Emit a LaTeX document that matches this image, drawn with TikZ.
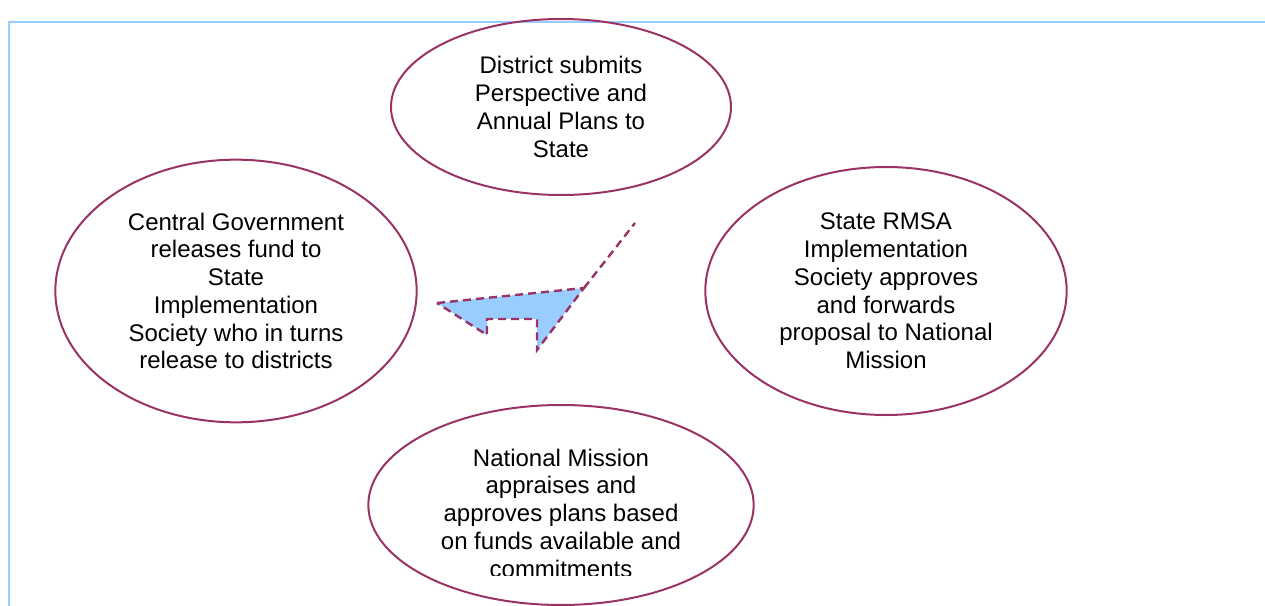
\documentclass[tikz,border=0pt]{standalone}
\usepackage{fontspec}
\setmainfont{Liberation Sans}
\usetikzlibrary{shapes.geometric}
\definecolor{plum}{RGB}{153,51,102}
\definecolor{paleblue}{RGB}{153,204,255}

\begin{document}
\begin{tikzpicture}[x=0.75pt, y=-0.75pt,
    stage/.style={ellipse, draw=plum, line width=1.5pt, inner sep=0pt, align=center,
                  font=\fontsize{18}{20.8}\selectfont},
    stagetext/.style={align=center, inner sep=0pt, font=\fontsize{18}{20.8}\selectfont},
    dashline/.style={plum, line width=1.8pt, dash pattern=on 6pt off 3.8pt}]
      \useasboundingbox (0,0) rectangle (1265,606);
      %%% light blue frame, open at right and bottom
      \draw[paleblue, line width=2pt] (9,606) -- (9,22) -- (1265,22);
      %%% the four stages of the cycle (sizes in pt, 0.75pt per unit)
      \node[stage, minimum width=255pt, minimum height=132pt] (district) at (561,107)
           {District submits\\ Perspective and\\ Annual Plans to\\ State};
      \node[stage, minimum width=271pt, minimum height=197pt] (central) at (236,291)
           {Central Government\\ releases fund to\\ State\\ Implementation\\ Society who in turns\\ release to districts};
      \node[stage, minimum width=271pt, minimum height=186pt] (state) at (886,291)
           {State RMSA\\ Implementation\\ Society approves\\ and forwards\\ proposal to National\\ Mission};
      \node[stage, minimum width=289pt, minimum height=150pt] (mission) at (561,505) {};
      %%% text of the lowest stage is cut off by its box
      \begin{scope}
        \clip (370,420) rectangle (760,575);
        \node[stagetext] (missiontext) at (561,513)
             {National Mission\\ appraises and\\ approves plans based\\ on funds available and\\ commitments};
      \end{scope}
      %%% bent arrow in the middle
      \draw[dashline, fill=paleblue]
           (437,303) -- (584,288) -- (537,350) -- (537,319) -- (487,319) -- (487,335) -- cycle;
      \draw[dashline] (584,288) -- (635,223);
\end{tikzpicture}
\end{document}
